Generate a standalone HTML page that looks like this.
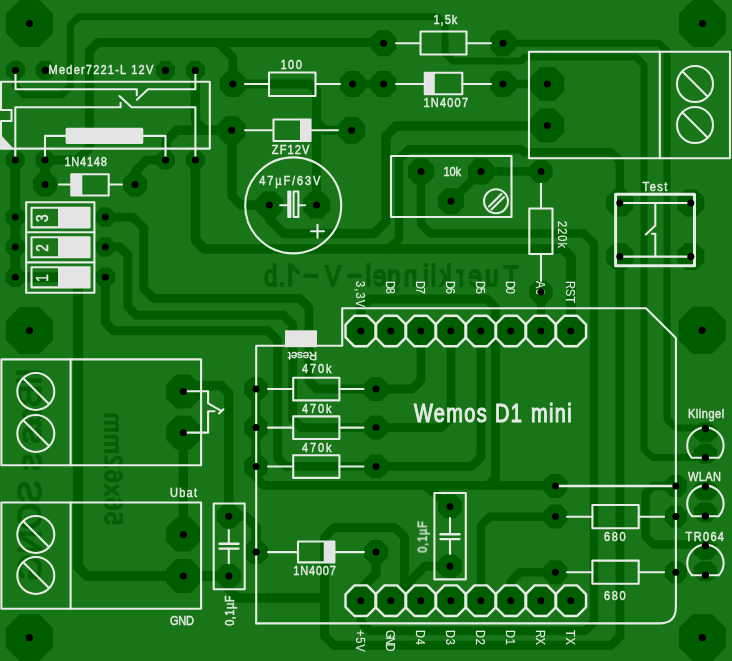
<!DOCTYPE html>
<html><head><meta charset="utf-8"><style>
html,body{margin:0;padding:0;background:#187518;}
svg{display:block;}
text{font-family:"Liberation Sans",sans-serif;}
</style></head><body>
<svg width="732" height="661" viewBox="0 0 732 661"><rect x="0" y="0" width="732" height="661" fill="#187518"/>
<g fill="none" stroke="#005e00" stroke-linecap="round" stroke-linejoin="round">
<polyline stroke-width="7.0" points="15.5,70.3 15.5,86.0 24.0,94.7 62.0,94.7 70.3,86.4 70.3,25.0 78.5,16.8 437.0,16.8 445.0,24.8 445.0,53.0 453.0,61.0 521.0,61.0 525.0,57.0 636.0,57.0 644.0,65.0 644.0,449.0 652.5,457.5 705.4,457.5"/>
<polyline stroke-width="8.9" points="45.0,160.0 77.0,160.0 89.5,147.5 89.5,51.0 98.0,42.5 383.5,42.5"/>
<polyline stroke-width="8.9" points="218.0,42.5 232.8,57.3 232.8,84.0"/>
<polyline stroke-width="7.0" points="503.0,43.2 659.0,43.2 667.0,51.2 667.0,419.0 676.0,428.0 705.4,428.0"/>
<polyline stroke-width="8.9" points="232.8,84.0 310.0,84.0 316.5,90.5 316.5,205.0"/>
<polyline stroke-width="8.9" points="316.5,122.0 324.7,130.2 351.6,130.2"/>
<polyline stroke-width="8.4" points="352.6,84.0 383.5,84.0"/>
<polyline stroke-width="8.4" points="503.0,84.0 547.3,84.0"/>
<polyline stroke-width="9.4" points="547.3,126.0 396.0,126.0 386.0,136.0 386.0,221.5 374.0,233.5 283.5,233.5 269.3,219.3 269.3,205.0"/>
<polyline stroke-width="9.4" points="195.4,70.4 195.4,121.0 204.6,130.2 231.6,130.2"/>
<polyline stroke-width="9.4" points="231.6,130.2 177.0,130.2 166.0,141.2 165.5,160.0"/>
<polyline stroke-width="9.4" points="232.0,130.2 232.0,196.0 241.0,205.0 269.3,205.0"/>
<polyline stroke-width="8.9" points="135.0,184.5 135.0,172.0 147.0,160.0 165.5,160.0"/>
<polyline stroke-width="9.7" points="195.4,160.0 195.4,240.0 204.4,249.0 563.0,249.0 571.0,257.0 571.0,331.0"/>
<polyline stroke-width="8.4" points="619.8,203.0 619.8,161.0 611.0,152.2 524.0,152.2 521.0,149.2 409.0,149.2 399.0,159.2 399.0,239.0 389.0,249.0"/>
<polyline stroke-width="8.4" points="421.0,171.5 421.0,224.0 430.5,233.5 584.0,233.5 594.0,243.5 594.0,622.0 585.0,631.0 370.0,631.0 360.8,621.8 360.8,600.7"/>
<polyline stroke-width="8.4" points="451.0,201.3 481.0,171.5 541.0,171.4"/>
<polyline stroke-width="8.4" points="541.0,292.0 541.0,331.0"/>
<polyline stroke-width="8.9" points="105.3,217.1 132.8,217.1 143.8,228.1 143.8,288.6 153.6,298.4 299.7,298.4 309.0,307.7 309.0,381.0 317.0,389.0 412.0,389.0 421.0,380.0 421.0,331.0"/>
<polyline stroke-width="8.9" points="105.3,247.0 119.8,247.0 128.0,255.2 128.0,306.8 136.5,315.3 283.4,315.3 292.7,324.6 292.7,419.0 301.3,427.6 441.0,427.6 451.0,417.6 451.0,331.0"/>
<polyline stroke-width="8.9" points="105.3,277.2 105.3,322.4 113.7,330.8 268.0,330.8 277.7,340.5 277.7,458.0 286.0,466.4 471.5,466.4 481.0,457.0 481.0,331.0"/>
<polyline stroke-width="9.9" points="15.3,160.0 15.3,277.2 78.1,277.2 78.1,567.0 87.1,576.0 228.8,576.0"/>
<polyline stroke-width="9.4" points="45.0,160.0 45.0,184.5"/>
<polyline stroke-width="9.4" points="228.8,576.0 228.8,589.0 237.8,598.0 324.6,598.0"/>
<polyline stroke-width="8.9" points="390.6,600.7 404.5,586.8 404.5,537.2 395.0,527.7 334.0,527.7 324.6,537.1 324.6,636.0 334.0,645.3 611.0,645.3 620.0,636.3 620.0,256.6"/>
<polyline stroke-width="8.9" points="398.0,593.3 425.0,566.2 450.0,566.2"/>
<polyline stroke-width="9.4" points="376.0,552.1 376.0,573.8 360.8,589.0 360.8,600.7"/>
<polyline stroke-width="9.4" points="228.8,516.2 245.5,516.2 256.0,526.7 256.0,552.1"/>
<polyline stroke-width="9.4" points="183.3,391.5 189.3,385.5 221.0,385.5 228.8,393.3 228.8,516.2"/>
<polyline stroke-width="9.4" points="183.3,432.7 183.3,534.5"/>
<polyline stroke-width="8.9" points="360.8,331.0 360.8,308.0 369.8,299.0 487.0,299.0 495.4,307.4 495.4,478.0 488.0,485.4 264.0,485.4 256.0,477.4 256.0,389.0"/>
<polyline stroke-width="8.9" points="488.0,485.4 555.4,485.4"/>
<polyline stroke-width="8.9" points="425.0,485.4 450.0,506.5"/>
<polyline stroke-width="8.4" points="555.4,516.6 490.0,516.6 481.0,525.6 481.0,600.7"/>
<polyline stroke-width="8.4" points="555.4,572.3 520.0,572.3 510.7,581.6 510.7,600.7"/>
<polyline stroke-width="8.4" points="675.8,486.0 653.0,486.0 645.5,493.5 645.5,536.5 653.5,544.5 705.4,544.5"/>
</g>
<g fill="#005e00">
<polygon points="19.77,0.00 39.23,0.00 53.00,13.77 53.00,33.23 39.23,47.00 19.77,47.00 6.00,33.23 6.00,13.77"/>
<polygon points="692.77,0.00 712.23,0.00 726.00,13.77 726.00,33.23 712.23,47.00 692.77,47.00 679.00,33.23 679.00,13.77"/>
<polygon points="19.77,307.00 39.23,307.00 53.00,320.77 53.00,340.23 39.23,354.00 19.77,354.00 6.00,340.23 6.00,320.77"/>
<polygon points="692.47,306.80 711.93,306.80 725.70,320.57 725.70,340.03 711.93,353.80 692.47,353.80 678.70,340.03 678.70,320.57"/>
<polygon points="19.67,614.20 39.13,614.20 52.90,627.97 52.90,647.43 39.13,661.20 19.67,661.20 5.90,647.43 5.90,627.97"/>
<polygon points="692.67,614.20 712.13,614.20 725.90,627.97 725.90,647.43 712.13,661.20 692.67,661.20 678.90,647.43 678.90,627.97"/>
<polygon points="11.56,60.80 19.44,60.80 25.00,66.36 25.00,74.24 19.44,79.80 11.56,79.80 6.00,74.24 6.00,66.36"/>
<polygon points="41.16,60.80 49.04,60.80 54.60,66.36 54.60,74.24 49.04,79.80 41.16,79.80 35.60,74.24 35.60,66.36"/>
<polygon points="161.46,60.90 169.34,60.90 174.90,66.46 174.90,74.34 169.34,79.90 161.46,79.90 155.90,74.34 155.90,66.46"/>
<polygon points="191.46,60.90 199.34,60.90 204.90,66.46 204.90,74.34 199.34,79.90 191.46,79.90 185.90,74.34 185.90,66.46"/>
<polygon points="11.36,150.50 19.24,150.50 24.80,156.06 24.80,163.94 19.24,169.50 11.36,169.50 5.80,163.94 5.80,156.06"/>
<polygon points="41.06,150.50 48.94,150.50 54.50,156.06 54.50,163.94 48.94,169.50 41.06,169.50 35.50,163.94 35.50,156.06"/>
<polygon points="161.56,150.50 169.44,150.50 175.00,156.06 175.00,163.94 169.44,169.50 161.56,169.50 156.00,163.94 156.00,156.06"/>
<polygon points="191.46,150.50 199.34,150.50 204.90,156.06 204.90,163.94 199.34,169.50 191.46,169.50 185.90,163.94 185.90,156.06"/>
<polygon points="40.03,172.50 49.97,172.50 57.00,179.53 57.00,189.47 49.97,196.50 40.03,196.50 33.00,189.47 33.00,179.53"/>
<polygon points="130.03,172.50 139.97,172.50 147.00,179.53 147.00,189.47 139.97,196.50 130.03,196.50 123.00,189.47 123.00,179.53"/>
<polygon points="11.26,207.35 19.34,207.35 25.05,213.06 25.05,221.14 19.34,226.85 11.26,226.85 5.55,221.14 5.55,213.06"/>
<polygon points="101.26,207.35 109.34,207.35 115.05,213.06 115.05,221.14 109.34,226.85 101.26,226.85 95.55,221.14 95.55,213.06"/>
<polygon points="11.26,237.25 19.34,237.25 25.05,242.96 25.05,251.04 19.34,256.75 11.26,256.75 5.55,251.04 5.55,242.96"/>
<polygon points="101.26,237.25 109.34,237.25 115.05,242.96 115.05,251.04 109.34,256.75 101.26,256.75 95.55,251.04 95.55,242.96"/>
<polygon points="11.26,267.45 19.34,267.45 25.05,273.16 25.05,281.24 19.34,286.95 11.26,286.95 5.55,281.24 5.55,273.16"/>
<polygon points="101.26,267.45 109.34,267.45 115.05,273.16 115.05,281.24 109.34,286.95 101.26,286.95 95.55,281.24 95.55,273.16"/>
<polygon points="227.42,71.00 238.18,71.00 245.80,78.62 245.80,89.38 238.18,97.00 227.42,97.00 219.80,89.38 219.80,78.62"/>
<polygon points="347.22,71.00 357.98,71.00 365.60,78.62 365.60,89.38 357.98,97.00 347.22,97.00 339.60,89.38 339.60,78.62"/>
<polygon points="225.80,116.20 237.40,116.20 245.60,124.40 245.60,136.00 237.40,144.20 225.80,144.20 217.60,136.00 217.60,124.40"/>
<polygon points="346.01,116.70 357.19,116.70 365.10,124.61 365.10,135.79 357.19,143.70 346.01,143.70 338.10,135.79 338.10,124.61"/>
<polygon points="378.12,30.20 388.88,30.20 396.50,37.82 396.50,48.58 388.88,56.20 378.12,56.20 370.50,48.58 370.50,37.82"/>
<polygon points="497.62,30.20 508.38,30.20 516.00,37.82 516.00,48.58 508.38,56.20 497.62,56.20 490.00,48.58 490.00,37.82"/>
<polygon points="378.12,71.00 388.88,71.00 396.50,78.62 396.50,89.38 388.88,97.00 378.12,97.00 370.50,89.38 370.50,78.62"/>
<polygon points="497.62,71.00 508.38,71.00 516.00,78.62 516.00,89.38 508.38,97.00 497.62,97.00 490.00,89.38 490.00,78.62"/>
<polygon points="540.26,67.00 554.34,67.00 564.30,76.96 564.30,91.04 554.34,101.00 540.26,101.00 530.30,91.04 530.30,76.96"/>
<polygon points="540.26,108.50 554.34,108.50 564.30,118.46 564.30,132.54 554.34,142.50 540.26,142.50 530.30,132.54 530.30,118.46"/>
<polygon points="263.71,191.50 274.89,191.50 282.80,199.41 282.80,210.59 274.89,218.50 263.71,218.50 255.80,210.59 255.80,199.41"/>
<polygon points="311.01,191.50 322.19,191.50 330.10,199.41 330.10,210.59 322.19,218.50 311.01,218.50 303.10,210.59 303.10,199.41"/>
<polygon points="415.62,158.50 426.38,158.50 434.00,166.12 434.00,176.88 426.38,184.50 415.62,184.50 408.00,176.88 408.00,166.12"/>
<polygon points="475.62,158.50 486.38,158.50 494.00,166.12 494.00,176.88 486.38,184.50 475.62,184.50 468.00,176.88 468.00,166.12"/>
<polygon points="445.62,188.30 456.38,188.30 464.00,195.92 464.00,206.68 456.38,214.30 445.62,214.30 438.00,206.68 438.00,195.92"/>
<polygon points="536.24,159.90 545.76,159.90 552.50,166.64 552.50,176.16 545.76,182.90 536.24,182.90 529.50,176.16 529.50,166.64"/>
<polygon points="536.24,280.50 545.76,280.50 552.50,287.24 552.50,296.76 545.76,303.50 536.24,303.50 529.50,296.76 529.50,287.24"/>
<polygon points="614.21,189.50 625.39,189.50 633.30,197.41 633.30,208.59 625.39,216.50 614.21,216.50 606.30,208.59 606.30,197.41"/>
<polygon points="685.21,189.50 696.39,189.50 704.30,197.41 704.30,208.59 696.39,216.50 685.21,216.50 677.30,208.59 677.30,197.41"/>
<polygon points="614.21,243.10 625.39,243.10 633.30,251.01 633.30,262.19 625.39,270.10 614.21,270.10 606.30,262.19 606.30,251.01"/>
<polygon points="685.21,243.10 696.39,243.10 704.30,251.01 704.30,262.19 696.39,270.10 685.21,270.10 677.30,262.19 677.30,251.01"/>
<polygon points="355.21,317.50 366.39,317.50 374.30,325.41 374.30,336.59 366.39,344.50 355.21,344.50 347.30,336.59 347.30,325.41"/>
<polygon points="355.21,587.20 366.39,587.20 374.30,595.11 374.30,606.29 366.39,614.20 355.21,614.20 347.30,606.29 347.30,595.11"/>
<polygon points="385.21,317.50 396.39,317.50 404.30,325.41 404.30,336.59 396.39,344.50 385.21,344.50 377.30,336.59 377.30,325.41"/>
<polygon points="385.21,587.20 396.39,587.20 404.30,595.11 404.30,606.29 396.39,614.20 385.21,614.20 377.30,606.29 377.30,595.11"/>
<polygon points="415.21,317.50 426.39,317.50 434.30,325.41 434.30,336.59 426.39,344.50 415.21,344.50 407.30,336.59 407.30,325.41"/>
<polygon points="415.21,587.20 426.39,587.20 434.30,595.11 434.30,606.29 426.39,614.20 415.21,614.20 407.30,606.29 407.30,595.11"/>
<polygon points="445.21,317.50 456.39,317.50 464.30,325.41 464.30,336.59 456.39,344.50 445.21,344.50 437.30,336.59 437.30,325.41"/>
<polygon points="445.21,587.20 456.39,587.20 464.30,595.11 464.30,606.29 456.39,614.20 445.21,614.20 437.30,606.29 437.30,595.11"/>
<polygon points="475.21,317.50 486.39,317.50 494.30,325.41 494.30,336.59 486.39,344.50 475.21,344.50 467.30,336.59 467.30,325.41"/>
<polygon points="475.21,587.20 486.39,587.20 494.30,595.11 494.30,606.29 486.39,614.20 475.21,614.20 467.30,606.29 467.30,595.11"/>
<polygon points="505.21,317.50 516.39,317.50 524.30,325.41 524.30,336.59 516.39,344.50 505.21,344.50 497.30,336.59 497.30,325.41"/>
<polygon points="505.21,587.20 516.39,587.20 524.30,595.11 524.30,606.29 516.39,614.20 505.21,614.20 497.30,606.29 497.30,595.11"/>
<polygon points="535.21,317.50 546.39,317.50 554.30,325.41 554.30,336.59 546.39,344.50 535.21,344.50 527.30,336.59 527.30,325.41"/>
<polygon points="535.21,587.20 546.39,587.20 554.30,595.11 554.30,606.29 546.39,614.20 535.21,614.20 527.30,606.29 527.30,595.11"/>
<polygon points="565.21,317.50 576.39,317.50 584.30,325.41 584.30,336.59 576.39,344.50 565.21,344.50 557.30,336.59 557.30,325.41"/>
<polygon points="565.21,587.20 576.39,587.20 584.30,595.11 584.30,606.29 576.39,614.20 565.21,614.20 557.30,606.29 557.30,595.11"/>
<polygon points="251.11,377.20 260.89,377.20 267.80,384.11 267.80,393.89 260.89,400.80 251.11,400.80 244.20,393.89 244.20,384.11"/>
<polygon points="371.03,377.00 380.97,377.00 388.00,384.03 388.00,393.97 380.97,401.00 371.03,401.00 364.00,393.97 364.00,384.03"/>
<polygon points="251.11,415.80 260.89,415.80 267.80,422.71 267.80,432.49 260.89,439.40 251.11,439.40 244.20,432.49 244.20,422.71"/>
<polygon points="371.03,415.60 380.97,415.60 388.00,422.63 388.00,432.57 380.97,439.60 371.03,439.60 364.00,432.57 364.00,422.63"/>
<polygon points="251.11,454.70 260.89,454.70 267.80,461.61 267.80,471.39 260.89,478.30 251.11,478.30 244.20,471.39 244.20,461.61"/>
<polygon points="371.03,454.50 380.97,454.50 388.00,461.53 388.00,471.47 380.97,478.50 371.03,478.50 364.00,471.47 364.00,461.53"/>
<polygon points="251.03,540.10 260.97,540.10 268.00,547.13 268.00,557.07 260.97,564.10 251.03,564.10 244.00,557.07 244.00,547.13"/>
<polygon points="371.03,540.10 380.97,540.10 388.00,547.13 388.00,557.07 380.97,564.10 371.03,564.10 364.00,557.07 364.00,547.13"/>
<polygon points="223.83,504.20 233.77,504.20 240.80,511.23 240.80,521.17 233.77,528.20 223.83,528.20 216.80,521.17 216.80,511.23"/>
<polygon points="223.83,564.00 233.77,564.00 240.80,571.03 240.80,580.97 233.77,588.00 223.83,588.00 216.80,580.97 216.80,571.03"/>
<polygon points="445.03,494.50 454.97,494.50 462.00,501.53 462.00,511.47 454.97,518.50 445.03,518.50 438.00,511.47 438.00,501.53"/>
<polygon points="445.03,554.20 454.97,554.20 462.00,561.23 462.00,571.17 454.97,578.20 445.03,578.20 438.00,571.17 438.00,561.23"/>
<polygon points="176.26,374.50 190.34,374.50 200.30,384.46 200.30,398.54 190.34,408.50 176.26,408.50 166.30,398.54 166.30,384.46"/>
<polygon points="176.26,415.70 190.34,415.70 200.30,425.66 200.30,439.74 190.34,449.70 176.26,449.70 166.30,439.74 166.30,425.66"/>
<polygon points="176.26,517.50 190.34,517.50 200.30,527.46 200.30,541.54 190.34,551.50 176.26,551.50 166.30,541.54 166.30,527.46"/>
<polygon points="176.26,559.00 190.34,559.00 200.30,568.96 200.30,583.04 190.34,593.00 176.26,593.00 166.30,583.04 166.30,568.96"/>
<polygon points="550.43,474.00 560.37,474.00 567.40,481.03 567.40,490.97 560.37,498.00 550.43,498.00 543.40,490.97 543.40,481.03"/>
<polygon points="671.24,475.00 680.36,475.00 686.80,481.44 686.80,490.56 680.36,497.00 671.24,497.00 664.80,490.56 664.80,481.44"/>
<polygon points="550.43,504.60 560.37,504.60 567.40,511.63 567.40,521.57 560.37,528.60 550.43,528.60 543.40,521.57 543.40,511.63"/>
<polygon points="671.24,505.60 680.36,505.60 686.80,512.04 686.80,521.16 680.36,527.60 671.24,527.60 664.80,521.16 664.80,512.04"/>
<polygon points="550.43,560.30 560.37,560.30 567.40,567.33 567.40,577.27 560.37,584.30 550.43,584.30 543.40,577.27 543.40,567.33"/>
<polygon points="671.24,561.30 680.36,561.30 686.80,567.74 686.80,576.86 680.36,583.30 671.24,583.30 664.80,576.86 664.80,567.74"/>
<polygon points="700.64,422.40 710.16,422.40 716.90,428.26 716.90,436.54 710.16,442.40 700.64,442.40 693.90,436.54 693.90,428.26"/>
<polygon points="700.64,443.70 710.16,443.70 716.90,449.56 716.90,457.84 710.16,463.70 700.64,463.70 693.90,457.84 693.90,449.56"/>
<polygon points="700.64,480.50 710.16,480.50 716.90,486.36 716.90,494.64 710.16,500.50 700.64,500.50 693.90,494.64 693.90,486.36"/>
<polygon points="700.64,502.20 710.16,502.20 716.90,508.06 716.90,516.34 710.16,522.20 700.64,522.20 693.90,516.34 693.90,508.06"/>
<polygon points="700.64,539.70 710.16,539.70 716.90,545.56 716.90,553.84 710.16,559.70 700.64,559.70 693.90,553.84 693.90,545.56"/>
<polygon points="700.64,561.20 710.16,561.20 716.90,567.06 716.90,575.34 710.16,581.20 700.64,581.20 693.90,575.34 693.90,567.06"/>
</g>
<g font-size="29.5" fill="#056005" stroke="#056005" stroke-width="1.9" stroke-linejoin="round" text-anchor="middle" style="font-family:'Liberation Sans',sans-serif">
<text transform="translate(270.7,285.6) scale(-0.8,1)" x="0" y="0">b</text>
<text transform="translate(282.0,285.6) scale(-0.8,1)" x="0" y="0">.</text>
<polyline points="290.2,285 290.2,264.8 298,272.2" fill="none" stroke-width="4.2" stroke-linecap="round" stroke-linejoin="round"/>
<line x1="305.5" y1="275.8" x2="316.5" y2="275.8" stroke-width="4.2" stroke-linecap="round"/>
<text transform="translate(333.0,285.6) scale(-0.8,1)" x="0" y="0">V</text>
<line x1="349.0" y1="275.8" x2="360.0" y2="275.8" stroke-width="4.2" stroke-linecap="round"/>
<text transform="translate(368.3,285.6) scale(-0.8,1)" x="0" y="0">l</text>
<text transform="translate(379.4,285.6) scale(-0.8,1)" x="0" y="0">e</text>
<text transform="translate(393.7,285.6) scale(-0.8,1)" x="0" y="0">g</text>
<text transform="translate(410.5,285.6) scale(-0.8,1)" x="0" y="0">n</text>
<text transform="translate(425.8,285.6) scale(-0.8,1)" x="0" y="0">i</text>
<text transform="translate(433.5,285.6) scale(-0.8,1)" x="0" y="0">l</text>
<text transform="translate(445.7,285.6) scale(-0.8,1)" x="0" y="0">k</text>
<text transform="translate(460.0,285.6) scale(-0.8,1)" x="0" y="0">r</text>
<text transform="translate(475.0,285.6) scale(-0.8,1)" x="0" y="0">e</text>
<text transform="translate(491.6,285.6) scale(-0.8,1)" x="0" y="0">u</text>
<text transform="translate(511.0,285.6) scale(-0.8,1)" x="0" y="0">T</text>
</g>
<text transform="matrix(0,-1,-1,0,105.0,525.0)" x="0" y="0" font-size="23.5" fill="#056005" stroke="#056005" stroke-width="1.7" stroke-linejoin="round" style="font-family:'Liberation Sans',sans-serif" textLength="112" lengthAdjust="spacing">56x62mm</text>
<text transform="matrix(0,1,1,0,40.5,369.0)" x="0" y="0" font-size="34" fill="#056005" stroke="#056005" stroke-width="1.6" stroke-linejoin="round" style="font-family:'Liberation Sans',sans-serif" textLength="212" lengthAdjust="spacing">llBas s SONG</text>
<g fill="none" stroke="#e6ece6" stroke-width="2.1" stroke-linecap="round" stroke-linejoin="round">
<polyline points="209.8,81.7 1.0,81.7 1.0,110.0 11.5,110.0 11.5,121.0 1.0,121.0 1.0,148.6 209.8,148.6 209.8,81.7"/>
<polyline points="15.5,70.3 15.5,89.3 136.8,89.3 136.8,95.3"/>
<polyline points="136.8,99.8 148.0,89.3 195.4,89.3 195.4,70.4"/>
<polyline points="15.3,160.0 15.3,107.3 120.6,107.3 120.6,102.8"/>
<polyline points="119.5,96.0 131.6,107.3 195.4,107.3 195.4,160.0"/>
<polyline points="45.0,160.0 45.0,135.9 65.6,135.9"/>
<polyline points="143.3,135.9 165.5,135.9 165.5,160.0"/>
<polyline points="59.0,184.5 71.0,184.5"/>
<polyline points="109.0,184.5 122.0,184.5"/>
<rect x="71.3" y="174.3" width="37.4" height="21.2"/>
<rect x="26.2" y="202.2" width="68.2" height="90.5"/>
<polyline points="26.2,232.3 94.4,232.3"/>
<polyline points="26.2,262.4 94.4,262.4"/>
<rect x="31.5" y="207.7" width="58.0" height="19.7"/>
<rect x="31.5" y="237.2" width="58.0" height="20.1"/>
<rect x="31.5" y="267.3" width="58.0" height="20.1"/>
<polyline points="245.0,84.0 269.0,84.0"/>
<polyline points="315.5,84.0 340.0,84.0"/>
<rect x="269.0" y="72.5" width="46.5" height="23.5"/>
<polyline points="245.0,130.2 273.0,130.2"/>
<polyline points="311.0,130.2 338.0,130.2"/>
<rect x="273.5" y="119.5" width="37.0" height="21.5"/>
<polyline points="396.0,43.2 420.5,43.2"/>
<polyline points="466.5,43.2 491.0,43.2"/>
<rect x="420.5" y="31.5" width="46.0" height="23.0"/>
<polyline points="396.0,84.0 424.8,84.0"/>
<polyline points="462.3,84.0 491.0,84.0"/>
<rect x="424.8" y="72.8" width="37.5" height="21.5"/>
<rect x="529.0" y="51.8" width="201.0" height="106.4"/>
<polyline points="659.8,51.8 659.8,158.2"/>
<circle cx="695.0" cy="84.0" r="18.0"/>
<polyline points="682.5,71.5 707.5,96.5"/>
<circle cx="695.0" cy="125.0" r="18.0"/>
<polyline points="682.5,112.5 707.5,137.5"/>
<circle cx="293.2" cy="205.4" r="48.0"/>
<polyline points="280.2,205.2 288.0,205.2"/>
<polyline points="298.4,205.2 305.1,205.2"/>
<rect x="293.6" y="191.5" width="4.8" height="25.5"/>
<rect x="288.3" y="191.5" width="2" height="25.5" fill="#e6ece6"/>
<polyline points="311.0,231.3 324.0,231.3"/>
<polyline points="317.5,224.8 317.5,237.8"/>
<rect x="391.0" y="156.0" width="120.5" height="61.0"/>
<circle cx="496.0" cy="201.3" r="12.0"/>
<polyline points="489.0,206.5 501.5,194.0"/>
<polyline points="491.5,209.5 504.0,197.0"/>
<polyline points="541.0,183.8 541.0,208.5"/>
<polyline points="541.0,254.0 541.0,281.0"/>
<rect x="529.3" y="208.5" width="23.2" height="45.5"/>
<rect x="615.6" y="194.3" width="78.9" height="71.5" stroke-width="3"/>
<polyline points="619.8,203.0 690.8,203.0"/>
<polyline points="619.8,256.6 690.8,256.6"/>
<polyline points="655.3,203.0 655.3,225.5 645.8,234.5"/>
<polyline points="652.0,233.8 655.3,233.8 655.3,256.6"/>
<polyline points="256.2,623.4 256.2,345.8 342.2,345.8 342.2,308.3 646.0,308.3 675.9,338.0 675.9,608.0"/>
<path d="M675.9,607 Q675.9,623.4 659.5,623.4 L256.2,623.4"/>
<g stroke-width="2.4">
<polygon points="354.46,315.70 367.14,315.70 376.10,324.66 376.10,337.34 367.14,346.30 354.46,346.30 345.50,337.34 345.50,324.66"/>
<polygon points="354.46,585.40 367.14,585.40 376.10,594.36 376.10,607.04 367.14,616.00 354.46,616.00 345.50,607.04 345.50,594.36"/>
<polygon points="384.46,315.70 397.14,315.70 406.10,324.66 406.10,337.34 397.14,346.30 384.46,346.30 375.50,337.34 375.50,324.66"/>
<polygon points="384.46,585.40 397.14,585.40 406.10,594.36 406.10,607.04 397.14,616.00 384.46,616.00 375.50,607.04 375.50,594.36"/>
<polygon points="414.46,315.70 427.14,315.70 436.10,324.66 436.10,337.34 427.14,346.30 414.46,346.30 405.50,337.34 405.50,324.66"/>
<polygon points="414.46,585.40 427.14,585.40 436.10,594.36 436.10,607.04 427.14,616.00 414.46,616.00 405.50,607.04 405.50,594.36"/>
<polygon points="444.46,315.70 457.14,315.70 466.10,324.66 466.10,337.34 457.14,346.30 444.46,346.30 435.50,337.34 435.50,324.66"/>
<polygon points="444.46,585.40 457.14,585.40 466.10,594.36 466.10,607.04 457.14,616.00 444.46,616.00 435.50,607.04 435.50,594.36"/>
<polygon points="474.46,315.70 487.14,315.70 496.10,324.66 496.10,337.34 487.14,346.30 474.46,346.30 465.50,337.34 465.50,324.66"/>
<polygon points="474.46,585.40 487.14,585.40 496.10,594.36 496.10,607.04 487.14,616.00 474.46,616.00 465.50,607.04 465.50,594.36"/>
<polygon points="504.46,315.70 517.14,315.70 526.10,324.66 526.10,337.34 517.14,346.30 504.46,346.30 495.50,337.34 495.50,324.66"/>
<polygon points="504.46,585.40 517.14,585.40 526.10,594.36 526.10,607.04 517.14,616.00 504.46,616.00 495.50,607.04 495.50,594.36"/>
<polygon points="534.46,315.70 547.14,315.70 556.10,324.66 556.10,337.34 547.14,346.30 534.46,346.30 525.50,337.34 525.50,324.66"/>
<polygon points="534.46,585.40 547.14,585.40 556.10,594.36 556.10,607.04 547.14,616.00 534.46,616.00 525.50,607.04 525.50,594.36"/>
<polygon points="564.46,315.70 577.14,315.70 586.10,324.66 586.10,337.34 577.14,346.30 564.46,346.30 555.50,337.34 555.50,324.66"/>
<polygon points="564.46,585.40 577.14,585.40 586.10,594.36 586.10,607.04 577.14,616.00 564.46,616.00 555.50,607.04 555.50,594.36"/>
</g>
<polyline points="268.0,389.0 293.2,389.0"/>
<polyline points="339.4,389.0 363.5,389.0"/>
<rect x="293.2" y="377.8" width="46.2" height="22.6"/>
<polyline points="268.0,427.6 293.2,427.6"/>
<polyline points="339.4,427.6 363.5,427.6"/>
<rect x="293.2" y="416.4" width="46.2" height="22.6"/>
<polyline points="268.0,466.5 293.2,466.5"/>
<polyline points="339.4,466.5 363.5,466.5"/>
<rect x="293.2" y="455.3" width="46.2" height="22.6"/>
<polyline points="268.0,552.1 298.0,552.1"/>
<polyline points="334.4,552.1 364.0,552.1"/>
<rect x="298.0" y="541.5" width="36.4" height="20.9"/>
<rect x="213.7" y="503.5" width="31.0" height="85.7"/>
<polyline points="228.8,530.0 228.8,543.8"/>
<polyline points="228.8,548.6 228.8,563.3"/>
<g stroke-width="2.4">
<polyline points="219.5,543.8 238.5,543.8"/>
<polyline points="219.5,548.6 238.5,548.6"/>
</g>
<rect x="434.4" y="493.0" width="31.4" height="86.4"/>
<polyline points="450.0,518.0 450.0,534.3"/>
<polyline points="450.0,539.1 450.0,554.0"/>
<g stroke-width="2.4">
<polyline points="440.5,534.3 459.5,534.3"/>
<polyline points="440.5,539.1 459.5,539.1"/>
</g>
<rect x="1.4" y="359.4" width="199.7" height="105.9"/>
<polyline points="70.6,359.4 70.6,465.3"/>
<rect x="1.4" y="502.5" width="199.7" height="106.2"/>
<polyline points="70.6,502.5 70.6,608.7"/>
<circle cx="35.8" cy="391.5" r="18.5"/>
<polyline points="23.5,378.5 48.5,403.5"/>
<circle cx="35.8" cy="433.5" r="18.5"/>
<polyline points="23.5,420.5 48.5,445.5"/>
<circle cx="35.8" cy="534.5" r="18.5"/>
<polyline points="23.5,521.5 48.5,546.5"/>
<circle cx="35.8" cy="575.5" r="18.5"/>
<polyline points="23.5,562.5 48.5,587.5"/>
<polyline points="187.0,391.3 208.1,391.3 208.1,403.4 221.3,410.9"/>
<polyline points="219.0,413.6 223.4,409.2"/>
<polyline points="187.0,432.6 208.1,432.6 208.1,411.3 214.5,411.3"/>
<polyline points="567.0,516.7 592.4,516.7"/>
<polyline points="638.7,516.7 664.0,516.7"/>
<rect x="592.4" y="505.0" width="46.3" height="23.2"/>
<polyline points="567.0,572.3 592.4,572.3"/>
<polyline points="638.7,572.3 664.0,572.3"/>
<rect x="592.4" y="560.6" width="46.3" height="23.2"/>
<path d="M691.7,457.7 A18.2,18.2 0 1 1 719.1,457.7 L719.1,457.7 Z"/>
<path d="M692.1,516.2 A18.2,18.2 0 1 1 718.7,516.2 L718.7,516.2 Z"/>
<path d="M691.9,575.2 A18.2,18.2 0 1 1 718.9,575.2 L718.9,575.2 Z"/>
</g>
<line x1="555.4" y1="486" x2="675.8" y2="486" stroke="#e6ece6" stroke-width="2.6"/>
<g fill="#e4e4e4">
<polygon points="0,134 13.5,148.6 0,148.6"/>
<rect x="65.6" y="127.7" width="77.7" height="16.4" rx="1.5"/>
<rect x="71.3" y="174.3" width="11" height="21.2"/>
<rect x="58" y="207.7" width="31.5" height="19.7"/>
<rect x="58" y="237.2" width="31.5" height="20.1"/>
<rect x="58" y="267.3" width="31.5" height="20.1"/>
<rect x="300" y="119.5" width="10.5" height="21.5"/>
<rect x="424.8" y="72.8" width="10" height="21.5"/>
<rect x="323.7" y="541.5" width="10.7" height="20.9"/>
<rect x="285" y="330.3" width="32" height="16.9"/>
</g>
<g style="font-family:'Liberation Sans',sans-serif" stroke="#e6ece6" stroke-width="0.45" opacity="0.995">
<text transform="translate(48.60,73.60) scale(0.850,1)" x="0" y="0" font-size="13.0" font-weight="normal" fill="#e6ece6" textLength="123.2" lengthAdjust="spacing">Meder7221-L 12V</text>
<text transform="translate(64.50,165.50) scale(0.850,1)" x="0" y="0" font-size="13.0" font-weight="normal" fill="#e6ece6" textLength="49.8" lengthAdjust="spacing">1N4148</text>
<text transform="translate(280.50,68.70) scale(0.850,1)" x="0" y="0" font-size="13.0" font-weight="normal" fill="#e6ece6" textLength="25.1" lengthAdjust="spacing">100</text>
<text transform="translate(271.80,153.60) scale(0.850,1)" x="0" y="0" font-size="13.0" font-weight="normal" fill="#e6ece6" textLength="44.1" lengthAdjust="spacing">ZF12V</text>
<text transform="translate(433.50,23.60) scale(0.850,1)" x="0" y="0" font-size="13.0" font-weight="normal" fill="#e6ece6" textLength="28.0" lengthAdjust="spacing">1,5k</text>
<text transform="translate(423.50,106.60) scale(0.850,1)" x="0" y="0" font-size="13.0" font-weight="normal" fill="#e6ece6" textLength="52.4" lengthAdjust="spacing">1N4007</text>
<text transform="translate(259.20,185.00) scale(0.850,1)" x="0" y="0" font-size="13.0" font-weight="normal" fill="#e6ece6" textLength="72.0" lengthAdjust="spacing">47µF/63V</text>
<text transform="translate(443.50,176.00) scale(0.850,1)" x="0" y="0" font-size="13.0" font-weight="normal" fill="#e6ece6" textLength="20.6" lengthAdjust="spacing">10k</text>
<text transform="translate(642.60,190.70) scale(0.850,1)" x="0" y="0" font-size="13.0" font-weight="normal" fill="#e6ece6" textLength="29.2" lengthAdjust="spacing">Test</text>
<text transform="translate(302.00,373.30) scale(0.850,1)" x="0" y="0" font-size="13.0" font-weight="normal" fill="#e6ece6" textLength="34.6" lengthAdjust="spacing">470k</text>
<text transform="translate(302.00,413.20) scale(0.850,1)" x="0" y="0" font-size="13.0" font-weight="normal" fill="#e6ece6" textLength="34.6" lengthAdjust="spacing">470k</text>
<text transform="translate(302.00,452.00) scale(0.850,1)" x="0" y="0" font-size="13.0" font-weight="normal" fill="#e6ece6" textLength="34.6" lengthAdjust="spacing">470k</text>
<g stroke-width="1.1">
<text transform="translate(414.00,421.80) scale(0.800,1)" x="0" y="0" font-size="25.0" font-weight="normal" fill="#e6ece6" textLength="135.0" lengthAdjust="spacing">Wemos D1</text>
<text transform="translate(531.00,421.80) scale(0.800,1)" x="0" y="0" font-size="25.0" font-weight="normal" fill="#e6ece6" textLength="51.0" lengthAdjust="spacing">mini</text>
</g>
<text transform="translate(688.00,417.50) scale(0.850,1)" x="0" y="0" font-size="13.0" font-weight="normal" fill="#e6ece6" textLength="42.6" lengthAdjust="spacing">Klingel</text>
<text transform="translate(688.00,481.00) scale(0.850,1)" x="0" y="0" font-size="13.0" font-weight="normal" fill="#e6ece6" textLength="38.8" lengthAdjust="spacing">WLAN</text>
<text transform="translate(685.60,541.30) scale(0.850,1)" x="0" y="0" font-size="13.0" font-weight="normal" fill="#e6ece6" textLength="45.2" lengthAdjust="spacing">TR064</text>
<text transform="translate(604.00,540.50) scale(0.850,1)" x="0" y="0" font-size="13.0" font-weight="normal" fill="#e6ece6" textLength="25.5" lengthAdjust="spacing">680</text>
<text transform="translate(604.00,600.30) scale(0.850,1)" x="0" y="0" font-size="13.0" font-weight="normal" fill="#e6ece6" textLength="25.5" lengthAdjust="spacing">680</text>
<text transform="translate(293.30,574.90) scale(0.850,1)" x="0" y="0" font-size="13.0" font-weight="normal" fill="#e6ece6" textLength="50.1" lengthAdjust="spacing">1N4007</text>
<text transform="translate(170.00,497.00) scale(0.850,1)" x="0" y="0" font-size="13.0" font-weight="normal" fill="#e6ece6" textLength="31.8" lengthAdjust="spacing">Ubat</text>
<text transform="translate(170.00,625.00) scale(0.850,1)" x="0" y="0" font-size="13.0" font-weight="normal" fill="#e6ece6" textLength="28.2" lengthAdjust="spacing">GND</text>
<g stroke-width="0.15">
<text transform="translate(557.95,221.00) rotate(90) scale(0.850,1)" x="0" y="0" font-size="13.0" fill="#e6ece6" textLength="31.8" lengthAdjust="spacing">220k</text>
<text transform="translate(356.25,281.00) rotate(90) scale(0.850,1)" x="0" y="0" font-size="13.0" fill="#e6ece6" textLength="30.6" lengthAdjust="spacing">3,3V</text>
<text transform="translate(386.25,281.00) rotate(90) scale(0.850,1)" x="0" y="0" font-size="13.0" fill="#e6ece6" textLength="15.3" lengthAdjust="spacing">D8</text>
<text transform="translate(416.25,281.00) rotate(90) scale(0.850,1)" x="0" y="0" font-size="13.0" fill="#e6ece6" textLength="15.3" lengthAdjust="spacing">D7</text>
<text transform="translate(446.25,281.00) rotate(90) scale(0.850,1)" x="0" y="0" font-size="13.0" fill="#e6ece6" textLength="15.3" lengthAdjust="spacing">D6</text>
<text transform="translate(476.25,281.00) rotate(90) scale(0.850,1)" x="0" y="0" font-size="13.0" fill="#e6ece6" textLength="15.3" lengthAdjust="spacing">D5</text>
<text transform="translate(506.25,281.00) rotate(90) scale(0.850,1)" x="0" y="0" font-size="13.0" fill="#e6ece6" textLength="15.3" lengthAdjust="spacing">D0</text>
<text transform="translate(536.25,281.00) rotate(90) scale(0.850,1)" x="0" y="0" font-size="13.0" fill="#e6ece6" textLength="16.5" lengthAdjust="spacing">A0</text>
<text transform="translate(566.25,281.00) rotate(90) scale(0.850,1)" x="0" y="0" font-size="13.0" fill="#e6ece6" textLength="25.9" lengthAdjust="spacing">RST</text>
<text transform="translate(356.25,630.00) rotate(90) scale(0.850,1)" x="0" y="0" font-size="13.0" fill="#e6ece6" textLength="25.3" lengthAdjust="spacing">+5V</text>
<text transform="translate(386.25,630.00) rotate(90) scale(0.850,1)" x="0" y="0" font-size="13.0" fill="#e6ece6" textLength="25.3" lengthAdjust="spacing">GND</text>
<text transform="translate(416.25,630.00) rotate(90) scale(0.850,1)" x="0" y="0" font-size="13.0" fill="#e6ece6" textLength="17.6" lengthAdjust="spacing">D4</text>
<text transform="translate(446.25,630.00) rotate(90) scale(0.850,1)" x="0" y="0" font-size="13.0" fill="#e6ece6" textLength="17.6" lengthAdjust="spacing">D3</text>
<text transform="translate(476.25,630.00) rotate(90) scale(0.850,1)" x="0" y="0" font-size="13.0" fill="#e6ece6" textLength="17.6" lengthAdjust="spacing">D2</text>
<text transform="translate(506.25,630.00) rotate(90) scale(0.850,1)" x="0" y="0" font-size="13.0" fill="#e6ece6" textLength="17.6" lengthAdjust="spacing">D1</text>
<text transform="translate(536.25,630.00) rotate(90) scale(0.850,1)" x="0" y="0" font-size="13.0" fill="#e6ece6" textLength="17.6" lengthAdjust="spacing">RX</text>
<text transform="translate(566.25,630.00) rotate(90) scale(0.850,1)" x="0" y="0" font-size="13.0" fill="#e6ece6" textLength="17.6" lengthAdjust="spacing">TX</text>
</g>
<text transform="translate(234.05,625.80) rotate(-90) scale(0.850,1)" x="0" y="0" font-size="13.0" fill="#e6ece6" textLength="35.6" lengthAdjust="spacing">0,1µF</text>
<text transform="translate(426.75,552.70) rotate(-90) scale(0.850,1)" x="0" y="0" font-size="13.0" fill="#e6ece6" textLength="37.3" lengthAdjust="spacing">0,1µF</text>
<text transform="translate(47.90,222.00) rotate(-90) scale(0.850,1)" x="0" y="0" font-size="16.0" fill="#e6ece6" textLength="10.6" lengthAdjust="spacing">3</text>
<text transform="translate(47.90,251.80) rotate(-90) scale(0.850,1)" x="0" y="0" font-size="16.0" fill="#e6ece6" textLength="10.6" lengthAdjust="spacing">2</text>
<text transform="translate(47.90,281.80) rotate(-90) scale(0.850,1)" x="0" y="0" font-size="16.0" fill="#e6ece6" textLength="10.6" lengthAdjust="spacing">1</text>
<text transform="translate(317,352.3) rotate(180)" x="0" y="0" font-size="11.8" fill="#e6ece6" textLength="29" lengthAdjust="spacingAndGlyphs">Reset</text>
</g>
<g fill="#000000">
<circle cx="29.5" cy="23.5" r="3.6"/>
<circle cx="702.5" cy="23.5" r="3.6"/>
<circle cx="29.5" cy="330.5" r="3.6"/>
<circle cx="702.2" cy="330.3" r="3.6"/>
<circle cx="29.4" cy="637.7" r="3.6"/>
<circle cx="702.4" cy="637.7" r="3.6"/>
<circle cx="15.5" cy="70.3" r="3.6"/>
<circle cx="45.1" cy="70.3" r="3.6"/>
<circle cx="165.4" cy="70.4" r="3.6"/>
<circle cx="195.4" cy="70.4" r="3.6"/>
<circle cx="15.3" cy="160.0" r="3.6"/>
<circle cx="45.0" cy="160.0" r="3.6"/>
<circle cx="165.5" cy="160.0" r="3.6"/>
<circle cx="195.4" cy="160.0" r="3.6"/>
<circle cx="45.0" cy="184.5" r="3.5"/>
<circle cx="135.0" cy="184.5" r="3.5"/>
<circle cx="15.3" cy="217.1" r="3.5"/>
<circle cx="105.3" cy="217.1" r="3.5"/>
<circle cx="15.3" cy="247.0" r="3.5"/>
<circle cx="105.3" cy="247.0" r="3.5"/>
<circle cx="15.3" cy="277.2" r="3.5"/>
<circle cx="105.3" cy="277.2" r="3.5"/>
<circle cx="232.8" cy="84.0" r="3.5"/>
<circle cx="352.6" cy="84.0" r="3.5"/>
<circle cx="231.6" cy="130.2" r="3.5"/>
<circle cx="351.6" cy="130.2" r="3.5"/>
<circle cx="383.5" cy="43.2" r="3.5"/>
<circle cx="503.0" cy="43.2" r="3.5"/>
<circle cx="383.5" cy="84.0" r="3.5"/>
<circle cx="503.0" cy="84.0" r="3.5"/>
<circle cx="547.3" cy="84.0" r="3.5"/>
<circle cx="547.3" cy="125.5" r="3.5"/>
<circle cx="269.3" cy="205.0" r="3.5"/>
<circle cx="316.6" cy="205.0" r="3.5"/>
<circle cx="421.0" cy="171.5" r="3.5"/>
<circle cx="481.0" cy="171.5" r="3.5"/>
<circle cx="451.0" cy="201.3" r="3.5"/>
<circle cx="541.0" cy="171.4" r="3.5"/>
<circle cx="541.0" cy="292.0" r="3.5"/>
<circle cx="619.8" cy="203.0" r="3.5"/>
<circle cx="690.8" cy="203.0" r="3.5"/>
<circle cx="619.8" cy="256.6" r="3.5"/>
<circle cx="690.8" cy="256.6" r="3.5"/>
<circle cx="360.8" cy="331.0" r="3.5"/>
<circle cx="360.8" cy="600.7" r="3.5"/>
<circle cx="390.8" cy="331.0" r="3.5"/>
<circle cx="390.8" cy="600.7" r="3.5"/>
<circle cx="420.8" cy="331.0" r="3.5"/>
<circle cx="420.8" cy="600.7" r="3.5"/>
<circle cx="450.8" cy="331.0" r="3.5"/>
<circle cx="450.8" cy="600.7" r="3.5"/>
<circle cx="480.8" cy="331.0" r="3.5"/>
<circle cx="480.8" cy="600.7" r="3.5"/>
<circle cx="510.8" cy="331.0" r="3.5"/>
<circle cx="510.8" cy="600.7" r="3.5"/>
<circle cx="540.8" cy="331.0" r="3.5"/>
<circle cx="540.8" cy="600.7" r="3.5"/>
<circle cx="570.8" cy="331.0" r="3.5"/>
<circle cx="570.8" cy="600.7" r="3.5"/>
<circle cx="256.0" cy="389.0" r="3.5"/>
<circle cx="376.0" cy="389.0" r="3.5"/>
<circle cx="256.0" cy="427.6" r="3.5"/>
<circle cx="376.0" cy="427.6" r="3.5"/>
<circle cx="256.0" cy="466.5" r="3.5"/>
<circle cx="376.0" cy="466.5" r="3.5"/>
<circle cx="256.0" cy="552.1" r="3.5"/>
<circle cx="376.0" cy="552.1" r="3.5"/>
<circle cx="228.8" cy="516.2" r="3.5"/>
<circle cx="228.8" cy="576.0" r="3.5"/>
<circle cx="450.0" cy="506.5" r="3.5"/>
<circle cx="450.0" cy="566.2" r="3.5"/>
<circle cx="183.3" cy="391.5" r="3.5"/>
<circle cx="183.3" cy="432.7" r="3.5"/>
<circle cx="183.3" cy="534.5" r="3.5"/>
<circle cx="183.3" cy="576.0" r="3.5"/>
<circle cx="555.4" cy="486.0" r="3.5"/>
<circle cx="675.8" cy="486.0" r="3.5"/>
<circle cx="555.4" cy="516.6" r="3.5"/>
<circle cx="675.8" cy="516.6" r="3.5"/>
<circle cx="555.4" cy="572.3" r="3.5"/>
<circle cx="675.8" cy="572.3" r="3.5"/>
<circle cx="705.4" cy="428.4" r="3.6"/>
<circle cx="705.4" cy="457.7" r="3.6"/>
<circle cx="705.4" cy="486.5" r="3.6"/>
<circle cx="705.4" cy="516.2" r="3.6"/>
<circle cx="705.4" cy="545.7" r="3.6"/>
<circle cx="705.4" cy="575.2" r="3.6"/>
</g></svg>
</body></html>
